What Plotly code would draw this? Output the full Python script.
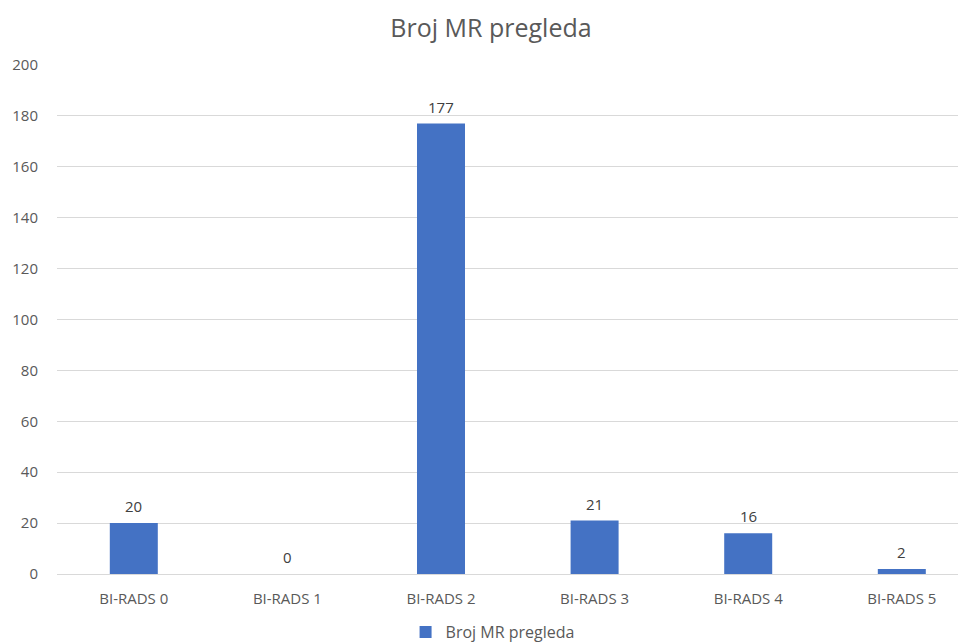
import plotly.graph_objects as go

categories = ["BI-RADS 0", "BI-RADS 1", "BI-RADS 2", "BI-RADS 3", "BI-RADS 4", "BI-RADS 5"]
values = [20, 0, 177, 21, 16, 2]
series_name = "Broj MR pregleda"
y_ticks = [0, 20, 40, 60, 80, 100, 120, 140, 160, 180, 200]

text_color = "#595959"
font_family = "Open Sans, Liberation Sans, sans-serif"

fig = go.Figure()
fig.add_trace(go.Bar(
    x=list(range(len(categories))),
    y=values,
    name=series_name,
    width=0.3125,
    marker=dict(color="#4472C4", line=dict(width=0)),
    cliponaxis=False,
))

for i, v in enumerate(values):
    fig.add_annotation(
        x=i, y=v, text=str(v), showarrow=False,
        xanchor="center", yanchor="middle", yshift=17,
        font=dict(size=15, color="#404040", family=font_family),
    )

fig.update_layout(
    width=966, height=643,
    margin=dict(l=49, r=0, t=57, b=77),
    paper_bgcolor="white", plot_bgcolor="white",
    title=dict(text="Broj MR pregleda", x=0.5, xanchor="center", y=0.969, yanchor="middle",
               font=dict(size=25, color=text_color, family=font_family)),
    showlegend=True,
    legend=dict(orientation="h", x=0.475, xanchor="center", y=-0.114, yanchor="middle",
                font=dict(size=16, color=text_color, family=font_family)),
    font=dict(family=font_family, color=text_color),
)
fig.update_xaxes(
    tickmode="array", tickvals=list(range(len(categories))), ticktext=categories,
    range=[-0.5, 5.47], showgrid=False, zeroline=False, showline=False,
    tickfont=dict(size=15, color=text_color), ticks="", ticklabelstandoff=14,
)
fig.update_yaxes(
    range=[0, 200], tickmode="array", tickvals=y_ticks,
    showgrid=True, gridcolor="#D9D9D9", gridwidth=1,
    zeroline=True, zerolinecolor="#D9D9D9", zerolinewidth=1,
    showline=False, ticks="", tickfont=dict(size=15, color=text_color),
    ticklabelstandoff=18,
)

fig.write_html("out.html")
